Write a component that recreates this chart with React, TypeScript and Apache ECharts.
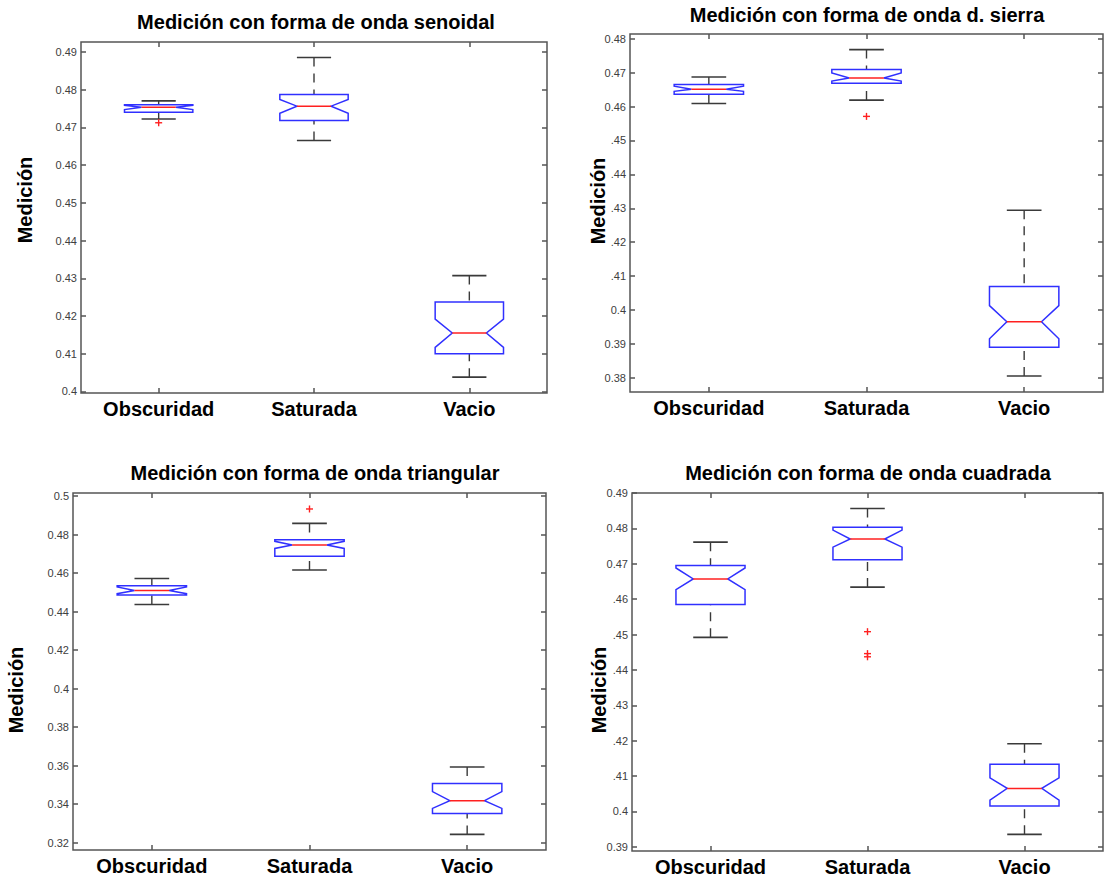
import React, { useEffect, useRef } from "react";
import * as echarts from "echarts";

const categories = ["Obscuridad", "Saturada", "Vacio"];

// each row: [whiskerLow, q1, notchLow, median, notchHigh, q3, whiskerHigh]
const senoidalStats = [
  [0.4722, 0.474, 0.4747, 0.4753, 0.4758, 0.476, 0.477],
  [0.4665, 0.4718, 0.4737, 0.4756, 0.4774, 0.4787, 0.4885],
  [0.4038, 0.41, 0.4117, 0.4155, 0.4192, 0.4237, 0.4307],
];
const senoidalOutliers = [[0, 0.4712]];
const senoidalTicks = ["0.4", "0.41", "0.42", "0.43", "0.44", "0.45", "0.46", "0.47", "0.48", "0.49"];

const sierraStats = [
  [0.4609, 0.4636, 0.4645, 0.4651, 0.466, 0.4665, 0.4687],
  [0.4619, 0.4669, 0.4675, 0.4684, 0.4699, 0.4709, 0.4768],
  [0.3805, 0.389, 0.3915, 0.3965, 0.4013, 0.4069, 0.4294],
];
const sierraOutliers = [[1, 0.4571]];
const sierraTicks = ["0.38", "0.39", "0.4", ".41", ".42", ".43", ".44", ".45", "0.46", "0.47", "0.48"];

const triangularStats = [
  [0.4437, 0.4486, 0.4493, 0.451, 0.4528, 0.4534, 0.4572],
  [0.4616, 0.4688, 0.4728, 0.4746, 0.4765, 0.4773, 0.4858],
  [0.3243, 0.3352, 0.3378, 0.3418, 0.3465, 0.3508, 0.3593],
];
const triangularOutliers = [[1, 0.4933]];
const triangularTicks = ["0.32", "0.34", "0.36", "0.38", "0.4", "0.42", "0.44", "0.46", "0.48", "0.5"];

const cuadradaStats = [
  [0.4492, 0.4585, 0.4627, 0.4657, 0.4688, 0.4695, 0.4761],
  [0.4634, 0.4711, 0.4747, 0.477, 0.4795, 0.4803, 0.4856],
  [0.3935, 0.4015, 0.4032, 0.4065, 0.4095, 0.4133, 0.4191],
];
const cuadradaOutliers = [[1, 0.4508], [1, 0.4446], [1, 0.4437]];
const cuadradaTicks = ["0.39", "0.4", ".41", ".42", ".43", ".44", ".45", ".46", "0.47", "0.48", "0.49"];

const titles = [
  "Medición con forma de onda senoidal",
  "Medición con forma de onda d. sierra",
  "Medición con forma de onda triangular",
  "Medición con forma de onda cuadrada",
];
const yName = "Medición";

const FONT = '"Liberation Sans", Arial, Helvetica, sans-serif';

const panels = [
  { stats: senoidalStats, outliers: senoidalOutliers, ticks: senoidalTicks, min: 0.3996, max: 0.4926,
    grid: { left: 81, top: 42, width: 466, height: 351 }, title: [316, 22], name: [25, 200] },
  { stats: sierraStats, outliers: sierraOutliers, ticks: sierraTicks, min: 0.3758, max: 0.4814,
    grid: { left: 630, top: 34, width: 473, height: 358 }, title: [867, 15], name: [598, 201] },
  { stats: triangularStats, outliers: triangularOutliers, ticks: triangularTicks, min: 0.3162, max: 0.5016,
    grid: { left: 73, top: 493, width: 473, height: 357 }, title: [315, 473], name: [16, 690] },
  { stats: cuadradaStats, outliers: cuadradaOutliers, ticks: cuadradaTicks, min: 0.3888, max: 0.49,
    grid: { left: 632, top: 493, width: 471, height: 358 }, title: [868, 473], name: [599, 690] },
];

const BLUE = "#3030ff";
const RED = "#ff2020";
const DARK = "#3a3a3a";
const FRAME = "#555555";

const renderBox = (params: any, api: any) => {
  const idx = api.value(0);
  const wl = api.value(1), q1 = api.value(2), nl = api.value(3), md = api.value(4);
  const nh = api.value(5), q3 = api.value(6), wh = api.value(7);
  const x = api.coord([idx, md])[0];
  const y = (v: number) => api.coord([idx, v])[1];
  const band = api.size([1, 0])[0];
  const hw = band * 0.22;
  const ni = hw * 0.5;
  const cap = hw * 0.5;
  const pts = [
    [x - hw, y(q3)], [x + hw, y(q3)], [x + hw, y(nh)], [x + ni, y(md)], [x + hw, y(nl)],
    [x + hw, y(q1)], [x - hw, y(q1)], [x - hw, y(nl)], [x - ni, y(md)], [x - hw, y(nh)],
  ];
  const dashStyle = { stroke: DARK, lineWidth: 1.4, lineDash: [9, 7], fill: null };
  const capStyle = { stroke: DARK, lineWidth: 1.6 };
  return {
    type: "group",
    children: [
      { type: "line", shape: { x1: x, y1: y(wh), x2: x, y2: y(q3) }, style: dashStyle },
      { type: "line", shape: { x1: x, y1: y(wl), x2: x, y2: y(q1) }, style: dashStyle },
      { type: "line", shape: { x1: x - cap, y1: y(wh), x2: x + cap, y2: y(wh) }, style: capStyle },
      { type: "line", shape: { x1: x - cap, y1: y(wl), x2: x + cap, y2: y(wl) }, style: capStyle },
      { type: "polygon", shape: { points: pts }, style: { fill: "#fff", stroke: BLUE, lineWidth: 1.5 } },
      { type: "line", shape: { x1: x - ni, y1: y(md), x2: x + ni, y2: y(md) }, style: { stroke: RED, lineWidth: 1.5 } },
    ],
  };
};

const renderPlus = (params: any, api: any) => {
  const p = api.coord([api.value(0), api.value(1)]);
  const s = 3.5;
  return {
    type: "group",
    children: [
      { type: "line", shape: { x1: p[0] - s, y1: p[1], x2: p[0] + s, y2: p[1] }, style: { stroke: RED, lineWidth: 1.4 } },
      { type: "line", shape: { x1: p[0], y1: p[1] - s, x2: p[0], y2: p[1] + s }, style: { stroke: RED, lineWidth: 1.4 } },
    ],
  };
};

export default function App() {
  const ref = useRef<HTMLDivElement>(null);
  useEffect(() => {
    if (!ref.current) return;
    const chart = echarts.init(ref.current, null, { renderer: "svg" });
    const grids: any[] = [];
    const xAxes: any[] = [];
    const yAxes: any[] = [];
    const series: any[] = [];
    const graphics: any[] = [];
    panels.forEach((p, i) => {
      grids.push({ ...p.grid, show: true, borderColor: FRAME, borderWidth: 1.5, backgroundColor: "#fff" });
      const tickVals = p.ticks.map(Number);
      const fmt = (v: number) => {
        const k = tickVals.findIndex((t) => Math.abs(t - v) < 1e-7);
        return k >= 0 ? p.ticks[k] : "";
      };
      const catTick = { show: true, inside: true, alignWithLabel: true, length: 5, lineStyle: { color: FRAME, width: 1.5 } };
      xAxes.push({
        gridIndex: i, type: "category", data: categories, position: "bottom",
        axisLine: { show: false }, axisTick: catTick, splitLine: { show: false },
        axisLabel: { fontSize: 20, fontWeight: "bold", color: "#000", fontFamily: FONT, margin: 6 },
      });
      xAxes.push({
        gridIndex: i, type: "category", data: categories, position: "top",
        axisLine: { show: false }, axisTick: catTick, splitLine: { show: false }, axisLabel: { show: false },
      });
      const valTick = { show: true, inside: true, length: 5, customValues: tickVals, lineStyle: { color: FRAME, width: 1.5 } };
      yAxes.push({
        gridIndex: i, type: "value", min: p.min, max: p.max, position: "left",
        axisLine: { show: false }, axisTick: valTick, splitLine: { show: false },
        axisLabel: { customValues: tickVals, formatter: fmt, fontSize: 11, color: "#404040", fontFamily: FONT, margin: 4 },
      });
      yAxes.push({
        gridIndex: i, type: "value", min: p.min, max: p.max, position: "right",
        axisLine: { show: false }, axisTick: valTick, splitLine: { show: false }, axisLabel: { show: false },
      });
      series.push({
        type: "custom", xAxisIndex: 2 * i, yAxisIndex: 2 * i, renderItem: renderBox,
        encode: { x: 0, y: 4 }, clip: false,
        data: p.stats.map((s, k) => [k, ...s]),
      });
      series.push({
        type: "custom", xAxisIndex: 2 * i, yAxisIndex: 2 * i, renderItem: renderPlus,
        encode: { x: 0, y: 1 }, clip: false, z: 3,
        data: p.outliers,
      });
      graphics.push({
        type: "text", x: p.title[0], y: p.title[1],
        style: { text: titles[i], font: `bold 20px ${FONT}`, fill: "#000", textAlign: "center", textVerticalAlign: "middle" },
      });
      graphics.push({
        type: "text", x: p.name[0], y: p.name[1], rotation: Math.PI / 2,
        style: { text: yName, font: `bold 20px ${FONT}`, fill: "#000", textAlign: "center", textVerticalAlign: "middle" },
      });
    });
    chart.setOption({
      animation: false,
      backgroundColor: "#fff",
      grid: grids,
      xAxis: xAxes,
      yAxis: yAxes,
      series,
      graphic: graphics,
    });
    return () => chart.dispose();
  }, []);
  return <div ref={ref} style={{ position: "absolute", left: 0, top: 0, width: 1104, height: 880 }} />;
}
